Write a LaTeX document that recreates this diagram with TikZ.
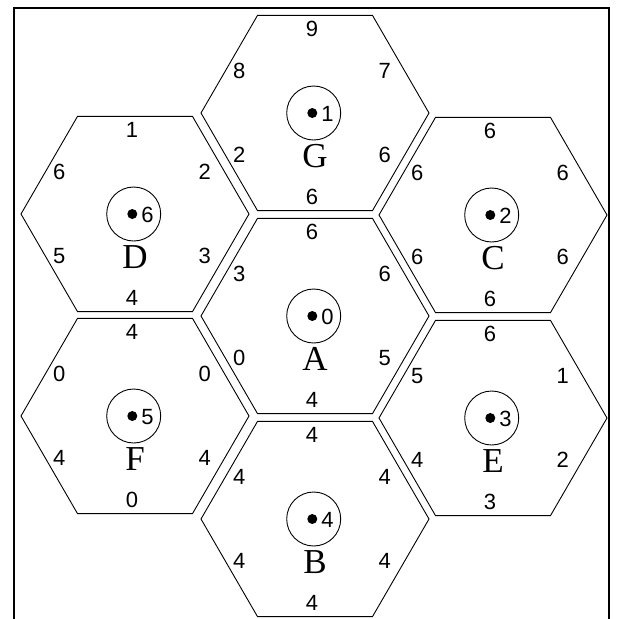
\documentclass[tikz,border=0pt]{standalone}
\usepackage{fontspec}
\setmainfont{Liberation Serif}
\newfontfamily\digitfont{Liberation Sans}

\tikzset{
  hexline/.style={draw, line width=0.9pt},
  ring/.style={draw, circle, minimum size=54pt, inner sep=0pt, line width=0.9pt},
  dotmark/.style={fill, circle, minimum size=10pt, inner sep=0pt},
  numtext/.style={font=\digitfont\fontsize{22}{22}\selectfont, inner sep=0pt},
  lettertext/.style={font=\fontsize{35}{35}\selectfont, inner sep=0pt},
  frameline/.style={line width=1.7pt},
}

\newcommand{\hexcell}[5]{%
  \coordinate (#1) at (#2);
  \draw[hexline] (#1) ++(114,0) -- ++(-56.5,97.6) -- ++(-115,0) -- ++(-56.5,-97.6)
     -- ++(56.5,-97.6) -- ++(115,0) -- cycle;
  \node[ring] (#1-ring) at ([xshift=-1.3pt]#1) {};
  \node[dotmark] (#1-dot) at ([xshift=-2.7pt]#1) {};
  \node[numtext] (#1-num) at ([xshift=12.5pt,yshift=-1pt]#1) {#3};
  \node[lettertext] (#1-name) at ([yshift=-43pt]#1) {#4};
  \foreach \v [count=\i] in {#5} {%
    \path (#1) ++({210+60*\i}:84) node[numtext, xshift=-3pt] (#1-e\i) {\v};
  }%
}

\begin{document}
\begin{tikzpicture}[x=1pt, y=-1pt]
  \fill[white] (0,0) rectangle (619,619);
  \useasboundingbox (0,0) rectangle (619,619);
  \draw[frameline] (14,630) -- (14,8) -- (609,8) -- (609,630);

  % name, centre, centre number, letter, edge labels (top, UR, LR, bottom, LL, UL)
  \hexcell{G}{315,113}{1}{G}{9,7,6,6,2,8}
  \hexcell{A}{315,316}{0}{A}{6,6,5,4,0,3}
  \hexcell{B}{315,519}{4}{B}{4,4,4,4,4,4}
  \hexcell{D}{135,214}{6}{D}{1,2,3,4,5,6}
  \hexcell{F}{135,416}{5}{F}{4,0,4,0,4,0}
  \hexcell{C}{493,215}{2}{C}{6,6,6,6,6,6}
  \hexcell{E}{493,418}{3}{E}{6,1,2,3,4,5}
\end{tikzpicture}
\end{document}
